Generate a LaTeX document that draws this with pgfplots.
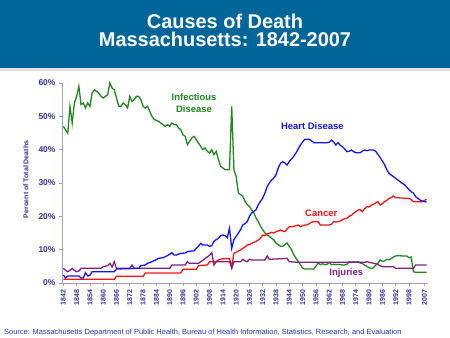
\documentclass[border=0pt]{standalone}
\usepackage{pgfplots}
\pgfplotsset{compat=1.18}
\usepackage{fontspec}
\setmainfont{Liberation Sans}
\definecolor{titleblue}{RGB}{0,102,153}
\definecolor{navy}{RGB}{51,51,153}
\definecolor{axgray}{RGB}{160,160,200}
\definecolor{cgreen}{RGB}{30,135,30}
\definecolor{cblue}{RGB}{20,20,245}
\definecolor{cred}{RGB}{245,20,20}
\definecolor{cpurple}{RGB}{128,32,128}
\definecolor{srcblue}{RGB}{30,60,170}
\pgfplotstableread{
x y
1842 47
1843 46
1844 45
1845 53
1846 48
1847 54
1848 56
1849 59
1850 53.5
1851 54
1852 52.5
1853 54
1854 53
1855 57
1856 58
1857 57.5
1858 57
1859 56
1860 55.5
1861 56
1862 56.5
1863 60
1864 58.5
1865 58
1866 55.5
1867 53
1868 53
1869 54
1870 53.5
1871 52.5
1872 56
1873 54.5
1874 55
1875 56
1876 56
1877 55
1878 53
1879 52.5
1880 53
1881 51.5
1882 50
1883 49
1884 48.8
1885 48.5
1886 48
1887 47.5
1888 47
1889 47.5
1890 47
1891 48
1892 47.5
1893 47.5
1894 46.5
1895 46
1896 44.5
1897 44
1898 41.5
1899 42.5
1900 43.5
1901 44
1902 43
1903 42
1904 41
1905 40
1906 40.5
1907 39.5
1908 39
1909 40
1910 38.5
1911 39.5
1912 37
1913 35
1914 34.5
1915 34
1916 34
1917 34
1918 53
1919 34
1920 32
1921 27
1922 26.5
1923 26
1924 24.5
1925 23.5
1926 23
1927 22
1928 21
1929 19.5
1930 18.4
1931 17
1932 16
1933 15
1934 14.4
1935 14
1936 13.4
1937 13
1938 12
1939 11.5
1940 11
1941 11
1942 11.5
1943 12
1944 11
1945 10
1946 8.5
1947 7.4
1948 6.5
1949 5.5
1950 4.5
1951 4.2
1952 4.2
1953 4.2
1954 4.2
1955 4.2
1956 5
1957 6
1958 5.5
1959 5.8
1960 5.5
1961 5.6
1962 6.2
1963 5.5
1964 5.6
1965 5.5
1966 5.6
1967 5.5
1968 5.4
1969 5.4
1970 5.6
1971 6.4
1972 6.2
1973 6.4
1974 6.3
1975 6.4
1976 6
1977 5.8
1978 5.4
1979 5
1980 4.6
1981 4.3
1982 4.6
1983 5.4
1984 5.9
1985 6.9
1986 6.5
1987 6.6
1988 7.1
1989 7
1990 7.3
1991 7.8
1992 8.1
1993 8.2
1994 8.2
1995 8.1
1996 8.1
1997 8.1
1998 7.6
1999 7.8
2000 3.4
2001 3.2
2002 3.2
2003 3.2
2004 3.2
2005 3.2
2006 3.2
}\infectious
\pgfplotstableread{
x y
1842 2.4
1843 1.5
1844 2.1
1849 2.1
1850 1.5
1851 1.5
1852 3.1
1853 2.1
1854 2.3
1855 3.4
1865 3.4
1866 4.2
1876 4.4
1877 5.2
1879 5.4
1880 5.9
1882 6.4
1884 7
1885 7.4
1887 7.6
1888 7.9
1890 8.6
1891 9.1
1892 8.4
1893 8.4
1895 8.9
1897 9
1898 9.4
1900 9.6
1901 9.6
1902 10.4
1903 11
1904 11.9
1905 11.4
1907 11.4
1908 11
1909 11.2
1910 12.5
1911 13
1912 13.4
1913 14.2
1914 14.4
1915 14.2
1916 13.6
1917 16.4
1918 10.4
1919 13
1920 14
1921 15
1922 16
1923 17.4
1924 17.8
1925 18.4
1926 20
1927 21
1928 21.5
1929 22
1930 23.5
1931 24.5
1932 25.5
1933 27
1934 28.9
1935 30
1936 30.9
1937 31.5
1938 32.5
1939 34.5
1940 35.9
1941 36.4
1942 36
1943 35.4
1944 36.5
1945 37.2
1946 38
1947 39
1948 40.2
1949 41.4
1950 42.3
1951 43.1
1952 43.1
1953 43.1
1954 42.7
1955 42.1
1956 42.1
1957 42.1
1958 42.1
1959 42.1
1960 42.1
1961 42.1
1962 42.2
1963 42.9
1964 42.3
1965 41.4
1966 42.1
1967 41.3
1968 40.9
1969 40.2
1970 39.4
1971 39.5
1972 39.9
1973 39.4
1974 39.1
1975 39.1
1976 39.1
1977 39.6
1978 39.9
1979 39.7
1980 39.9
1981 39.9
1982 39.9
1983 39.5
1984 38.6
1985 37.6
1986 36.6
1987 35.5
1988 34
1989 32.9
1990 32.4
1991 31.9
1992 31.4
1993 30.9
1994 30.4
1995 29.9
1996 29.5
1997 28.8
1998 28
1999 27.4
2000 27
2001 25.9
2002 25.4
2003 24.9
2004 24.6
2005 24.4
2006 24.4
}\heart
\pgfplotstableread{
x y
1842 1.1
1865 1.1
1866 2
1878 2
1879 3
1895 3
1896 4.1
1902 4.1
1903 5.2
1907 5.4
1908 6.4
1911 6.4
1912 6.9
1914 7.3
1917 7.3
1918 4.9
1919 8.9
1920 9.2
1921 9.6
1922 9.9
1923 10.4
1924 10.8
1925 11.4
1926 11.5
1927 11.9
1928 12.2
1929 12.5
1930 12.9
1931 13.5
1932 14.4
1933 14.2
1934 14.8
1935 14.9
1936 15.2
1937 15
1938 15.4
1939 15.6
1940 15.9
1941 15.6
1942 15.4
1943 16.2
1944 16.9
1945 16.9
1946 17
1947 17.2
1948 17.4
1949 16.9
1950 17.2
1951 17.4
1952 17.4
1953 17.8
1954 18.2
1955 18.4
1956 18.4
1957 18.4
1958 17.4
1959 17.4
1960 17.4
1961 17.4
1962 17.4
1963 17.6
1964 18.4
1965 18.3
1966 18.4
1967 18.6
1968 19
1969 19.3
1970 19.4
1971 20
1972 20.3
1973 20.9
1974 21.4
1975 21.9
1976 22
1977 21.4
1978 22.3
1979 22.9
1980 22.8
1981 23.4
1982 23.6
1983 24
1984 24.4
1985 23.4
1986 23.8
1987 24.4
1988 24.8
1989 25.4
1990 25.6
1991 26.1
1992 25.6
1993 25.6
1994 25.5
1995 25.5
1996 25.4
1997 25.4
1998 25.4
1999 25
2000 24.4
2001 24.4
2002 24.4
2003 24.4
2004 24.4
2005 24.8
2006 25.1
}\cancer
\pgfplotstableread{
x y
1842 4.4
1843 3.8
1844 3.4
1845 3.8
1846 4.4
1847 3.8
1848 3.4
1849 3.6
1850 4.4
1859 4.4
1860 4.9
1862 5.2
1863 5.9
1864 4.8
1865 6.4
1866 4.4
1872 4.4
1873 5.4
1874 4.4
1890 4.4
1891 5.4
1897 5.4
1898 6.4
1899 5.9
1903 5.9
1904 6.4
1905 6.8
1906 7.4
1908 8.3
1909 9.1
1910 5.4
1911 6.4
1917 6.4
1918 4.4
1919 6.4
1922 6.4
1923 7.1
1924 6.6
1925 6.4
1926 7.1
1927 6.9
1933 6.9
1934 8.1
1935 7.1
1943 7.4
1944 6.4
1948 6.2
1978 6.2
1979 6.4
1980 6.2
1983 5.8
1985 5.2
1986 4.9
1991 4.9
1992 4.4
2000 4.4
2001 5.4
2006 5.4
}\injuries
\begin{document}
\begin{tikzpicture}[x=1bp,y=1bp]
\useasboundingbox (0,0) rectangle (450,337);
\fill[white] (0,0) rectangle (450,337);
\fill[titleblue] (0,269) rectangle (450,337);
\fill[black!12] (0,266) rectangle (450,269);
\node[anchor=base, text=white, font=\bfseries\fontsize{20}{22}\selectfont] at (225,308.7) {Causes of Death};
\node[anchor=base, text=white, font=\bfseries\fontsize{20}{22}\selectfont] at (225,290.3) {Massachusetts: 1842-2007};
\node[rotate=90, text=navy, font=\bfseries\fontsize{7}{8}\selectfont] at (26,157.5) {Percent of Total Deaths};
\node[anchor=base west, text=srcblue, font=\fontsize{7.5}{8}\selectfont, inner sep=0pt] at (4,3) {Source: Massachusetts Department of Public Health, Bureau of Health Information, Statistics, Research, and Evaluation};
\begin{axis}[
  at={(62bp,54bp)}, anchor=south west,
  scale only axis, width=366bp, height=200bp,
  xmin=1841.4, xmax=2006.6, ymin=0, ymax=60,
  axis x line*=bottom, axis y line*=left,
  axis line style={color=axgray, line width=0.8pt, -},
  tick style={color=axgray, line width=0.6pt},
  tick align=outside, major tick length=3bp,
  ytick={0,10,...,60},
  yticklabel={\pgfmathprintnumber{\tick}\%},
  xtick={1842,1848,1854,1860,1866,1872,1878,1884,1890,1896,1902,1908,1914,1920,1926,1932,1938,1944,1950,1956,1962,1968,1974,1980,1986,1992,1998,2005},
  xticklabels={1842,1848,1854,1860,1866,1872,1878,1884,1890,1896,1902,1908,1914,1920,1926,1932,1938,1944,1950,1956,1962,1968,1974,1980,1986,1992,1998,2007},
  x tick label style={rotate=90, anchor=east, font=\bfseries\fontsize{7}{8}\selectfont, text=navy},
  y tick label style={font=\bfseries\fontsize{8.5}{9}\selectfont, text=navy},
  /pgf/number format/assume math mode=true,
  clip=false,
]
\addplot[cgreen, line width=1.3pt] table[x=x,y=y] {\infectious};
\addplot[cred, line width=1.3pt] table[x=x,y=y] {\cancer};
\addplot[cpurple, line width=1.3pt] table[x=x,y=y] {\injuries};
\addplot[cblue, line width=1.3pt] table[x=x,y=y] {\heart};
\node[text=cgreen, font=\bfseries\fontsize{9.5}{11.5}\selectfont, align=center] at (axis cs:1901,54) {Infectious\\Disease};
\node[text=cblue, font=\bfseries\fontsize{9.5}{11}\selectfont] at (axis cs:1954.4,47) {Heart Disease};
\node[text=cred, font=\bfseries\fontsize{9.5}{11}\selectfont] at (axis cs:1958.4,20.9) {Cancer};
\node[text=cpurple, font=\bfseries\fontsize{9.5}{11}\selectfont] at (axis cs:1969.7,2.9) {Injuries};
\end{axis}
\end{tikzpicture}
\end{document}
